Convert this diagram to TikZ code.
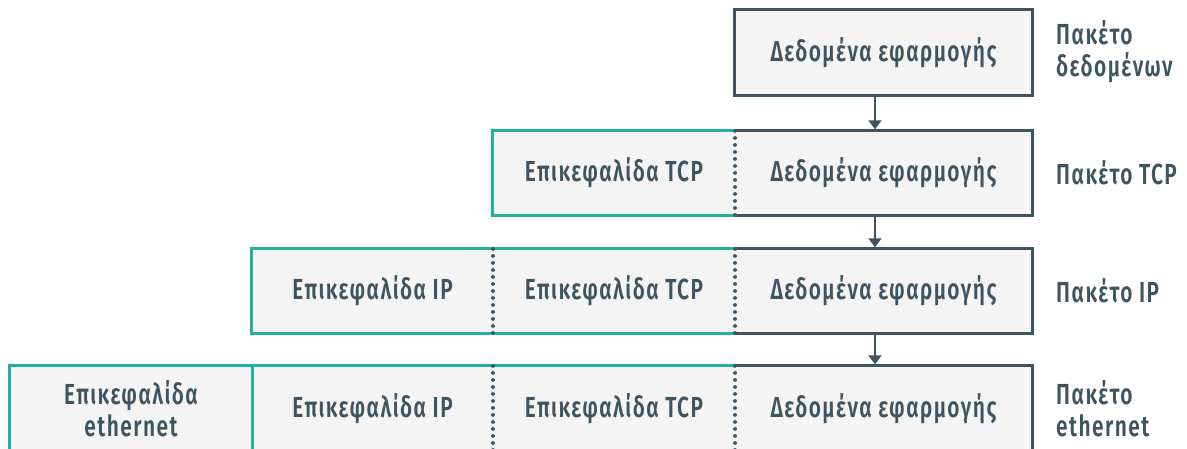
\documentclass[tikz,border=0pt]{standalone}
\usepackage{fontspec}
\setmainfont{Fira Sans}[UprightFont=* SemiBold, FakeStretch=0.72, LetterSpace=5]
\usetikzlibrary{arrows.meta}
\definecolor{darkc}{HTML}{3E5561}
\definecolor{tealc}{HTML}{20B2A0}
\definecolor{cellfill}{HTML}{F4F4F4}
\tikzset{
  cell/.style={fill=cellfill, draw=none, inner sep=0pt, minimum height=84pt, text=darkc, font=\fontsize{29}{32}\selectfont, align=center},
  lbl/.style={anchor=west, text=darkc, font=\fontsize{29}{32}\selectfont, align=left, inner sep=0pt},
  darkline/.style={draw=darkc, line width=3pt},
  tealline/.style={draw=tealc, line width=3pt},
  dotline/.style={draw=darkc, line width=3.4pt, line cap=round, dash pattern=on 0.3pt off 6.7pt},
  arr/.style={draw=darkc, line width=2pt, -{Triangle[width=13pt,length=9pt]}}
}
\begin{document}
\begin{tikzpicture}[x=1pt,y=-1pt]
\useasboundingbox (0,0) rectangle (1187,448);
% row 1
\node[cell, minimum width=297pt, minimum height=85pt] (d1) at (883.5,52.5) {Δεδομένα εφαρμογής};
% row 2
\node[cell, minimum width=297pt] (d2) at (883.5,173) {Δεδομένα εφαρμογής};
\node[cell, minimum width=242pt] (t2) at (614,173) {Επικεφαλίδα TCP};
% row 3
\node[cell, minimum width=297pt] (d3) at (883.5,291) {Δεδομένα εφαρμογής};
\node[cell, minimum width=242pt] (t3) at (614,291) {Επικεφαλίδα TCP};
\node[cell, minimum width=241pt] (i3) at (372.5,291) {Επικεφαλίδα IP};
% row 4
\node[cell, minimum width=297pt, minimum height=86pt] (d4) at (883.5,409) {Δεδομένα εφαρμογής};
\node[cell, minimum width=242pt, minimum height=86pt] (t4) at (614,409) {Επικεφαλίδα TCP};
\node[cell, minimum width=241pt, minimum height=86pt] (i4) at (372.5,409) {Επικεφαλίδα IP};
\node[cell, minimum width=242pt, minimum height=86pt] (e4) at (131,409) {Επικεφαλίδα\\ethernet};
% borders row 1
\draw[darkline] (d1.north west) rectangle (d1.south east);
% row 2
\draw[tealline] (t2.north east) -- (t2.north west) -- (t2.south west) -- (t2.south east);
\draw[darkline] (d2.north west) -- (d2.north east) -- (d2.south east) -- (d2.south west);
\draw[dotline] (d2.north west) -- (d2.south west);
% row 3
\draw[tealline] (t3.north east) -- (i3.north west) -- (i3.south west) -- (t3.south east);
\draw[darkline] (d3.north west) -- (d3.north east) -- (d3.south east) -- (d3.south west);
\draw[dotline] (d3.north west) -- (d3.south west);
\draw[dotline] (t3.north west) -- (t3.south west);
% row 4
\draw[tealline] (t4.north east) -- (e4.north west) -- (e4.south west) -- (t4.south east);
\draw[tealline] (e4.north east) -- (e4.south east);
\draw[darkline] (d4.north west) -- (d4.north east) -- (d4.south east) -- (d4.south west);
\draw[dotline] (d4.north west) -- (d4.south west);
\draw[dotline] (t4.north west) -- (t4.south west);
% arrows
\draw[arr] ([xshift=-8.5pt,yshift=-1.5pt]d1.south) -- ([xshift=-8.5pt,yshift=1.5pt]d2.north);
\draw[arr] ([xshift=-8.5pt,yshift=-1.5pt]d2.south) -- ([xshift=-8.5pt,yshift=1.5pt]d3.north);
\draw[arr] ([xshift=-8.5pt,yshift=-1.5pt]d3.south) -- ([xshift=-8.5pt,yshift=1.5pt]d4.north);
% labels
\node[lbl] (l1) at (1056,52) {Πακέτο\\δεδομένων};
\node[lbl] (l2) at (1056,173) {Πακέτο TCP};
\node[lbl] (l3) at (1056,291) {Πακέτο IP};
\node[lbl] (l4) at (1056,409) {Πακέτο\\ethernet};
\end{tikzpicture}
\end{document}
